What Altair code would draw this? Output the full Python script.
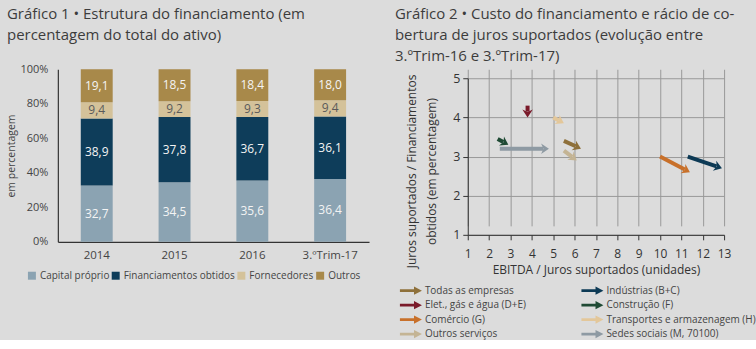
import math
import altair as alt
import pandas as pd

# ---------------- data: chart 1 ----------------
years = ["2014", "2015", "2016", "3.ºTrim-17"]
components = ["Capital próprio", "Financiamentos obtidos", "Fornecedores", "Outros"]
capital = [32.7, 34.5, 35.6, 36.4]
financ = [38.9, 37.8, 36.7, 36.1]
fornec = [9.4, 9.2, 9.3, 9.4]
outros = [19.1, 18.5, 18.4, 18.0]
comp_colors = ["#8BA3B2", "#0E3D5A", "#D4C29A", "#A8894A"]

# ---------------- data: chart 2 (legend fills column by column) ----------------
sectors = ["Todas as empresas", "Elet., gás e água (D+E)", "Comércio (G)",
           "Outros serviços", "Indústrias (B+C)", "Construção (F)",
           "Transportes e armazenagem (H)", "Sedes sociais (M, 70100)"]
x_start = [5.5, 3.8, 10.0, 5.5, 11.3, 2.4, 5.0, 2.5]
y_start = [3.4, 4.3, 3.0, 3.15, 3.0, 3.45, 4.0, 3.2]
x_end = [6.3, 3.8, 11.4, 6.1, 12.9, 2.9, 5.5, 4.8]
y_end = [3.2, 4.0, 2.6, 2.9, 2.7, 3.3, 3.85, 3.2]
sector_colors = ["#8E703A", "#7A1A2A", "#C8702A", "#C4B494",
                 "#0D3A55", "#1F4A34", "#E3C79A", "#8E9AA3"]

FONT = "Open Sans"
W1, H1 = 312, 173
W2, H2 = 257, 157
TOPGAP = 9  # right plot starts a bit lower than the left one

rows = []
for i, yr in enumerate(years):
    for k, vals in enumerate([capital, financ, fornec, outros]):
        rows.append({"year": yr, "comp": components[k], "order": k,
                     "value": vals[i], "label": f"{vals[i]:.1f}".replace(".", ",")})
bar_df = pd.DataFrame(rows)

base1 = alt.Chart(bar_df).transform_stack(
    stack="value", groupby=["year"], as_=["y0", "y1"], offset="normalize",
    sort=[alt.SortField("order")]
).transform_calculate(ym="(datum.y0 + datum.y1) / 2")

ax1_x = alt.Axis(title=None, labelAngle=0, ticks=False, domainColor="#333",
                 labelColor="#444", labelFontSize=11.5, labelFont=FONT,
                 labelPadding=8, domainWidth=1.2, labelOverlap=False)
ax1_y = alt.Axis(format=".0%", values=[0, 0.2, 0.4, 0.6, 0.8, 1.0],
                 title="em percentagem", titleFontSize=10.5, titleFont=FONT,
                 titleFontWeight="normal", titleColor="#444", titleX=-41,
                 ticks=False, grid=False, domainColor="#333", domainWidth=1.2,
                 labelColor="#444", labelFontSize=11, labelFont=FONT,
                 labelPadding=10, labelOverlap=False)
sc1_x = alt.Scale(paddingInner=0, paddingOuter=0)
sc1_y = alt.Scale(domain=[0, 1])

bars = base1.mark_bar(size=32).encode(
    x=alt.X("year:N", sort=years, scale=sc1_x, axis=ax1_x),
    y=alt.Y("y0:Q", scale=sc1_y, axis=ax1_y),
    y2="y1:Q",
    color=alt.Color("comp:N", scale=alt.Scale(domain=components, range=comp_colors),
                    legend=alt.Legend(title=None, orient="none", direction="horizontal",
                                      legendX=-31, legendY=202, symbolType="square",
                                      symbolSize=64, labelFont=FONT, labelFontSize=10,
                                      labelColor="#444", labelOffset=3, columnPadding=1,
                                      symbolStrokeWidth=0)),
    order=alt.Order("order:Q"),
)
labels = base1.mark_text(font=FONT, fontSize=12, baseline="middle").encode(
    x=alt.X("year:N", sort=years, scale=sc1_x, axis=ax1_x),
    y=alt.Y("ym:Q", scale=sc1_y, axis=ax1_y),
    text="label:N",
    color=alt.condition("datum.comp == 'Fornecedores'", alt.value("#5A5A5A"),
                        alt.value("#F4F4F4")),
)
chart1 = alt.layer(bars, labels).properties(
    width=W1, height=H1,
    title=alt.TitleParams(["Gráfico 1 • Estrutura do financiamento (em",
                           "percentagem do total do ativo)"],
                          anchor="start", frame="bounds", offset=20),
)

# ---------------- chart 2 ----------------
pxx = W2 / 12.0
pxy = H2 / 4.0
HEAD_SIZE = 110
HEAD = 1.1 * math.sqrt(HEAD_SIZE) / 2
arows = []
for i, s in enumerate(sectors):
    dx = (x_end[i] - x_start[i]) * pxx
    dy = -(y_end[i] - y_start[i]) * pxy
    ang = math.atan2(dy, dx)
    arows.append({
        "sector": s, "xs": x_start[i], "ys": y_start[i], "xe": x_end[i], "ye": y_end[i],
        "xsh": x_end[i] - math.cos(ang) * HEAD / pxx,
        "ysh": y_end[i] + math.sin(ang) * HEAD / pxy,
        "angle": math.degrees(ang) % 360,
    })
arrow_df = pd.DataFrame(arows)

xs2 = alt.Scale(domain=[1, 13], nice=False)
ys2 = alt.Scale(domain=[1, 5], nice=False, range=[H2 + TOPGAP, TOPGAP])
ax_x = alt.Axis(values=list(range(1, 14)), title="EBITDA / Juros suportados (unidades)",
                titleFont=FONT, titleFontSize=12, titleFontWeight="normal",
                titleColor="#333", titlePadding=5, labelFont=FONT, labelFontSize=12,
                labelColor="#333", gridColor="#999", domainColor="#333",
                tickColor="#333", tickSize=5, labelPadding=9, labelOverlap=False,
                labelFlush=False)
ax_y = alt.Axis(values=[1, 2, 3, 4, 5],
                title=["Juros suportados / Financiamentos", "obtidos (em percentagem)"],
                titleFont=FONT, titleFontSize=12, titleFontWeight="normal",
                titleColor="#333", titlePadding=14, titleLineHeight=20, titleY=102,
                labelFont=FONT, labelFontSize=12.5, labelColor="#333", gridColor="#999",
                domainColor="#333", tickColor="#333", tickSize=5, labelPadding=3,
                labelOverlap=False, labelFlush=False)

arrow_legend = alt.Legend(
    title=None, orient="none", columns=2, legendX=-64, legendY=215,
    symbolType="M-1.6,-0.2L0.45,-0.2L0.45,-0.6L1.6,0L0.45,0.6L0.45,0.2L-1.6,0.2Z",
    symbolSize=190, symbolStrokeWidth=0, labelFont=FONT, labelFontSize=10,
    labelColor="#444", labelOffset=7, columnPadding=54, rowPadding=2.5)
color2 = alt.Color("sector:N", scale=alt.Scale(domain=sectors, range=sector_colors),
                   legend=arrow_legend)

base2 = alt.Chart(arrow_df)
heads = base2.mark_point(filled=True, size=HEAD_SIZE, opacity=1, strokeWidth=0,
                         shape="M0,0L-1.5,-1L-1.05,0L-1.5,1Z").encode(
    x=alt.X("xe:Q", scale=xs2, axis=ax_x),
    y=alt.Y("ye:Q", scale=ys2, axis=ax_y),
    angle=alt.Angle("angle:Q", scale=None),
    color=color2,
)
shafts = base2.mark_rule(strokeWidth=4, strokeCap="butt").encode(
    x=alt.X("xs:Q", scale=xs2, axis=ax_x),
    y=alt.Y("ys:Q", scale=ys2, axis=ax_y),
    x2="xsh:Q", y2="ysh:Q",
    color=color2,
)
chart2 = alt.layer(heads, shafts).properties(
    width=W2, height=H2 + TOPGAP,
    title=alt.TitleParams(["Gráfico 2 • Custo do financiamento e rácio de co-",
                           "bertura de juros suportados (evolução entre",
                           "3.ºTrim-16 e 3.ºTrim-17)"],
                          anchor="start", frame="bounds", offset=5, dx=-9),
)

chart = alt.hconcat(chart1, chart2, spacing=26).resolve_scale(
    color="independent"
).properties(
    padding={"left": 7, "top": 7, "right": 0, "bottom": 0}
).configure(background="#DCDCDC").configure_view(stroke=None).configure_title(
    font=FONT, fontSize=15, fontWeight="normal", color="#3C3C3C", lineHeight=21
).configure_axis(labelFont=FONT, titleFont=FONT, labelOverlap=False)

chart.save("out.html", embed_options={"renderer": "svg", "actions": False})
